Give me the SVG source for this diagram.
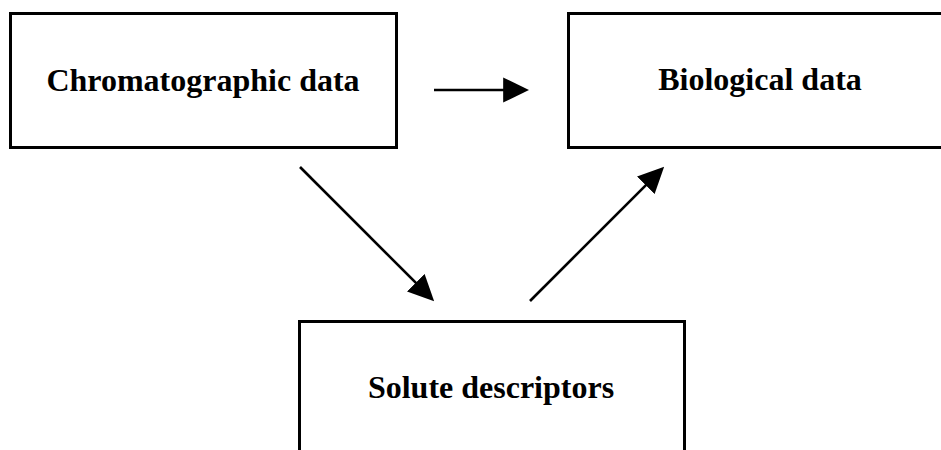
<svg xmlns="http://www.w3.org/2000/svg" width="941" height="450" viewBox="0 0 941 450">
<style>
.box{fill:#fff;stroke:#000;stroke-width:3}
.lbl{font-family:"Liberation Serif","Times New Roman",serif;font-weight:bold;font-size:32px;fill:#000;text-anchor:middle}
.conn{stroke:#000;stroke-width:2.6;fill:none;marker-end:url(#ah)}
</style>
<defs>
<marker id="ah" markerUnits="userSpaceOnUse" markerWidth="26" markerHeight="26" refX="21" refY="12" orient="auto" viewBox="0 0 25 24">
<path d="M0,0 L25,12 L0,24 z" fill="#000"/>
</marker>
</defs>
<rect width="941" height="450" fill="#fff"/>
<g id="chromatographic">
<rect class="box" x="10.5" y="13.5" width="386" height="134"/>
<text class="lbl" x="203" y="91">Chromatographic data</text>
</g>
<g id="biological">
<rect class="box" x="568.5" y="13.5" width="390" height="134"/>
<text class="lbl" x="760" y="90">Biological data</text>
</g>
<g id="solute">
<rect class="box" x="299.5" y="321.5" width="385" height="140"/>
<text class="lbl" x="491" y="398">Solute descriptors</text>
</g>
<g id="connectors">
<line class="conn" x1="434" y1="90" x2="525" y2="90"/>
<line class="conn" x1="300" y1="167" x2="431.2" y2="298.2"/>
<line class="conn" x1="530" y1="301" x2="661.2" y2="169.8"/>
</g>
</svg>
